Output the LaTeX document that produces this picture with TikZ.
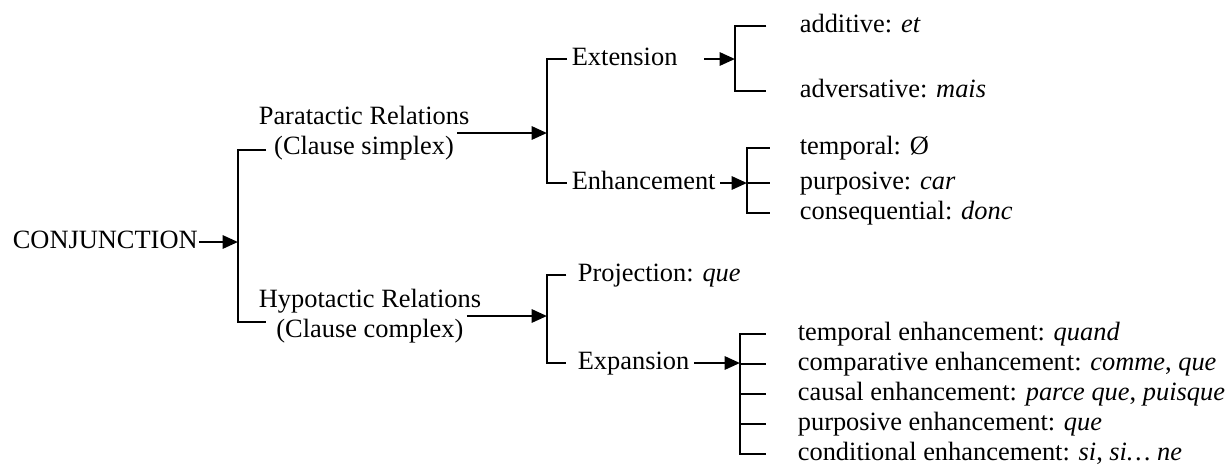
\documentclass[tikz,border=0pt,12pt]{standalone}
\usepackage{fontspec}
\setmainfont{Liberation Serif}
\usetikzlibrary{arrows.meta}
\usetikzlibrary{positioning}

\begin{document}
\begin{tikzpicture} [x=0.4545pt, y=-0.4545pt,
                every node/.style = {font=\fontsize{12}{13.6}\selectfont, inner sep=2pt},
                item/.style = {anchor=west, text height=8.5pt, text depth=2.5pt},
                group/.style = {anchor=west, align=center},
                rail/.style = {line width=1.15pt},
                feed/.style = {line width=1.15pt, -{Triangle[length=7pt,width=6pt]}}
            ]
            \useasboundingbox (0,0) rectangle (1229,467);
            % first level
            \node[item] (conj) at (8,242) {CONJUNCTION};
            \node[group] (para) at (254,133) {Paratactic Relations\\(Clause simplex)};
            \node[group] (hyp) at (254,316) {Hypotactic Relations\\(Clause complex)};
            % second level
            \node[item] (ext) at (567,59) {Extension};
            \node[item] (enh) at (567,183) {Enhancement};
            \node[item] (proj) at (573,275) {Projection: \textit{que}};
            \node[item] (expa) at (573,363) {Expansion};
            % leaves
            \node[item] (add) at (795,26) {additive: \textit{et}};
            \node[item] (adv) at (795,91) {adversative: \textit{mais}};
            \node[item] (tmp) at (795,148) {temporal: Ø};
            \node[item] (pur) at (795,183) {purposive: \textit{car}};
            \node[item] (cons) at (795,213) {consequential: \textit{donc}};
            \node[item] (e1) at (793,334) {temporal enhancement: \textit{quand}};
            \node[item] (e2) at (793,364) {comparative enhancement: \textit{comme}, \textit{que}};
            \node[item] (e3) at (793,394) {causal enhancement: \textit{parce que}, \textit{puisque}};
            \node[item] (e4) at (793,424) {purposive enhancement: \textit{que}};
            \node[item] (e5) at (793,454) {conditional enhancement: \textit{si}, \textit{si… ne}};
            % bracket spines
            \coordinate (br1) at (238,242);
            \coordinate (br2) at (547,133);
            \coordinate (br3) at (735,59);
            \coordinate (br4) at (747,183);
            \coordinate (br5) at (547,316);
            \coordinate (br6) at (740,363);
            \coordinate (p1) at (266,150);
            \coordinate (p2) at (266,322);
            % arrows
            \draw [feed] ([xshift=-1.5pt] conj.east) -- (br1);
            \draw [feed] ([xshift=-7.7pt] para.east) -- (br2);
            \draw [feed] ([xshift=-8.6pt] hyp.east) -- (br5);
            \draw [feed, shorten <=10pt] (ext.east) -- (br3);
            \draw [feed] (enh.east) -- (br4);
            \draw [feed] (expa.east) -- (br6);
            % brackets
            \draw [rail] (p1) -| (br1) |- (p2);
            \draw [rail] (ext.west) -| (br2) |- (enh.west);
            \draw [rail, shorten <=3pt, shorten >=3pt] (proj.west) -| (br5) |- (expa.west);
            \draw [rail, shorten <=13pt, shorten >=13pt] (add.west) -| (br3) |- (adv.west);
            \draw [rail, shorten <=11.4pt, shorten >=11.4pt] (tmp.west) -| (br4) |- (cons.west);
            \draw [rail, shorten >=11.4pt] (br4) -- (pur.west);
            \draw [rail, shorten <=12.5pt, shorten >=12.5pt] (e1.west) -| (br6) |- (e5.west);
            \foreach \n in {e2,e3,e4}
                \draw [rail, shorten >=12.5pt] (br6 |- \n.west) -- (\n.west);
        \end{tikzpicture}
\end{document}
